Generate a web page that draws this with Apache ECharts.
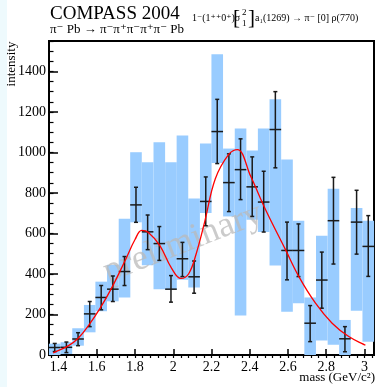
<!DOCTYPE html>
<html>
<head>
<meta charset="utf-8">
<script src="https://cdn.jsdelivr.net/npm/echarts@6/dist/echarts.min.js"></script>
<style>
  html, body { margin: 0; padding: 0; background: #fff; }
  #chart { width: 377px; height: 387px; }
</style>
</head>
<body>
<div id="chart"></div>
<script>
// mass bins (GeV/c^2), 28 bins between 1.35 and 3.05
const binCenter = [1.380, 1.441, 1.502, 1.563, 1.623, 1.684, 1.745, 1.805, 1.866, 1.927,
  1.988, 2.048, 2.109, 2.170, 2.230, 2.291, 2.352, 2.413, 2.473, 2.534,
  2.595, 2.655, 2.716, 2.777, 2.838, 2.898, 2.959, 3.020]
const binWidth = 0.0607

// intensity with statistical errors
const pointVal = [37, 38, 79, 203, 284, 325, 412, 741, 608, 550,
  325, 475, 386, 758, 1103, 851, 915, 830, 755, 1113,
  516, 516, 157, 370, 663, 80, 656, 536]
const errLow = [17, 12, 46, 140, 223, 264, 343, 655, 520, 467,
  261, 387, 305, 638, 945, 708, 767, 684, 607, 924,
  371, 387, 66, 231, 449, 16, 498, 388]
const errHigh = [57, 64, 110, 264, 343, 390, 486, 828, 691, 634,
  392, 556, 464, 879, 1262, 993, 1067, 978, 907, 1300,
  656, 647, 244, 508, 877, 140, 813, 688]

// systematic band (light blue boxes)
const bandLow = [0, 5, 46, 112, 216, 265, 284, 655, 443, 325,
  322, 371, 333, 701, 948, 684, 195, 668, 607, 442,
  214, 256, 0, 71, 50, 0, 219, 66]
const bandHigh = [56, 63, 132, 247, 362, 445, 673, 1001, 952, 1050,
  952, 1084, 772, 1044, 1484, 1019, 1118, 1009, 1118, 1262,
  965, 663, 284, 589, 821, 173, 726, 663]

// fit curve
const curveMass = [1.372, 1.45, 1.50, 1.56, 1.62, 1.68, 1.75, 1.80, 1.835, 1.87, 1.93, 1.99, 2.04,
  2.08, 2.12, 2.165, 2.22, 2.29, 2.335, 2.405, 2.483, 2.587, 2.657, 2.744, 2.831, 2.918, 3.005]
const curveVal = [11, 45, 80, 150, 235, 335, 470, 570, 615, 605, 540, 430, 378,
  400, 500, 660, 870, 990, 1014, 882, 717, 520, 387, 256, 157, 91, 49]

const xTicks = [1.4, 1.6, 1.8, 2.0, 2.2, 2.4, 2.6, 2.8, 3.0]
const yTicks = [0, 200, 400, 600, 800, 1000, 1200, 1400]

const xMin = 1.35
const xMax = 3.05
const yMax = 1550
const serif = '"Liberation Serif", "DejaVu Serif", serif'

// minor ticks: 5 subdivisions on x, 4 on y
const xMinor = []
for (let v = 1.36; v < xMax; v += 0.04) xMinor.push(Math.round(v * 100) / 100)
const yMinor = []
for (let v = 0; v <= yMax; v += 50) yMinor.push(v)

const chart = echarts.init(document.getElementById('chart'))

const boxData = binCenter.map((c, i) => [c, bandLow[i], bandHigh[i]])
const errData = binCenter.map((c, i) => [c, pointVal[i], errLow[i], errHigh[i]])
const curveData = curveMass.map((m, i) => [m, curveVal[i]])

const axisCommon = {
  type: 'value', min: xMin, max: xMax, gridIndex: 0,
  axisLine: { show: false }, splitLine: { show: false }
}
const yCommon = {
  type: 'value', min: 0, max: yMax, gridIndex: 0,
  axisLine: { show: false }, splitLine: { show: false }
}

const option = {
  animation: false,
  grid: {
    left: 49, top: 41, right: 3, bottom: 32,
    show: true, borderColor: '#000', borderWidth: 2, backgroundColor: 'transparent'
  },
  xAxis: [
    Object.assign({}, axisCommon, {
      axisTick: { inside: true, length: 6, customValues: xTicks, lineStyle: { color: '#000', width: 1.5 } },
      axisLabel: { customValues: xTicks, fontFamily: serif, fontSize: 14, color: '#000', margin: 5, formatter: v => String(v) }
    }),
    Object.assign({}, axisCommon, {
      axisTick: { inside: true, length: 3, customValues: xMinor, lineStyle: { color: '#000', width: 1.2 } },
      axisLabel: { show: false }
    })
  ],
  yAxis: [
    Object.assign({}, yCommon, {
      axisTick: { inside: true, length: 9, customValues: yTicks, lineStyle: { color: '#000', width: 1.5 } },
      axisLabel: { customValues: yTicks, fontFamily: serif, fontSize: 14, color: '#000', margin: 3, formatter: v => String(v) }
    }),
    Object.assign({}, yCommon, {
      position: 'left',
      axisTick: { inside: true, length: 4.5, customValues: yMinor, lineStyle: { color: '#000', width: 1.2 } },
      axisLabel: { show: false }
    })
  ],
  graphic: [
    { type: 'rect', shape: { x: 0, y: 0, width: 7, height: 387 }, style: { fill: '#eefafd' }, z: -10 },
    { type: 'text', x: 50, y: 14, style: { text: 'COMPASS 2004', font: '19px ' + serif, fill: '#000', verticalAlign: 'middle' } },
    { type: 'text', x: 50, y: 30, style: { text: 'π⁻ Pb → π⁻π⁺π⁻π⁺π⁻ Pb', font: '13px ' + serif, fill: '#000', verticalAlign: 'middle' } },
    { type: 'text', x: 192, y: 18, style: { text: '1⁻(1⁺⁺0⁺)σ', font: '10px ' + serif, fill: '#000', verticalAlign: 'middle' } },
    { type: 'text', x: 233, y: 18, style: { text: '[', font: '21px ' + serif, fill: '#000', verticalAlign: 'middle' } },
    { type: 'text', x: 242, y: 13, style: { text: '2', font: '9px ' + serif, fill: '#000', verticalAlign: 'middle' } },
    { type: 'text', x: 242, y: 24, style: { text: '1', font: '9px ' + serif, fill: '#000', verticalAlign: 'middle' } },
    { type: 'text', x: 248, y: 18, style: { text: ']', font: '21px ' + serif, fill: '#000', verticalAlign: 'middle' } },
    { type: 'text', x: 255, y: 18, style: { text: 'a₁(1269) → π⁻ [0] ρ(770)', font: '10px ' + serif, fill: '#000', verticalAlign: 'middle' } },
    { type: 'text', x: 12, y: 64, rotation: Math.PI / 2, style: { text: 'intensity', font: '13px ' + serif, fill: '#000', align: 'center', verticalAlign: 'middle' } },
    { type: 'text', x: 375, y: 378, style: { text: 'mass (GeV/c²)', font: '13px ' + serif, fill: '#000', align: 'right', verticalAlign: 'middle' } },
    { type: 'text', x: 183, y: 243, rotation: 0.37, z: 5, style: { text: 'preliminary', font: '36px ' + serif, fill: 'rgba(185,185,185,0.75)', align: 'center', verticalAlign: 'middle' } }
  ],
  series: [
    {
      type: 'custom', z: 1, xAxisIndex: 0, yAxisIndex: 0, data: boxData,
      renderItem: function (params, api) {
        const p1 = api.coord([api.value(0) - binWidth / 2, api.value(2)])
        const p2 = api.coord([api.value(0) + binWidth / 2, api.value(1)])
        return {
          type: 'rect',
          shape: { x: p1[0], y: p1[1], width: p2[0] - p1[0], height: p2[1] - p1[1] },
          style: { fill: '#99ccff' }
        }
      }
    },
    {
      type: 'custom', z: 10, xAxisIndex: 0, yAxisIndex: 0, data: errData,
      renderItem: function (params, api) {
        const c = api.value(0)
        const l = api.coord([c - binWidth / 2, api.value(1)])
        const r = api.coord([c + binWidth / 2, api.value(1)])
        const lo = api.coord([c, api.value(2)])
        const hi = api.coord([c, api.value(3)])
        const st = { stroke: '#1a1a1a', lineWidth: 1.5 }
        const cap = 2
        return {
          type: 'group',
          children: [
            { type: 'line', shape: { x1: l[0], y1: l[1], x2: r[0], y2: r[1] }, style: st },
            { type: 'line', shape: { x1: lo[0], y1: lo[1], x2: hi[0], y2: hi[1] }, style: st },
            { type: 'line', shape: { x1: lo[0] - cap, y1: lo[1], x2: lo[0] + cap, y2: lo[1] }, style: st },
            { type: 'line', shape: { x1: hi[0] - cap, y1: hi[1], x2: hi[0] + cap, y2: hi[1] }, style: st }
          ]
        }
      }
    },
    {
      type: 'line', z: 11, xAxisIndex: 0, yAxisIndex: 0, data: curveData,
      smooth: 0.4, showSymbol: false, symbol: 'none',
      lineStyle: { color: '#ff0000', width: 1.3 }
    }
  ]
}
chart.setOption(option)
</script>
</body>
</html>
